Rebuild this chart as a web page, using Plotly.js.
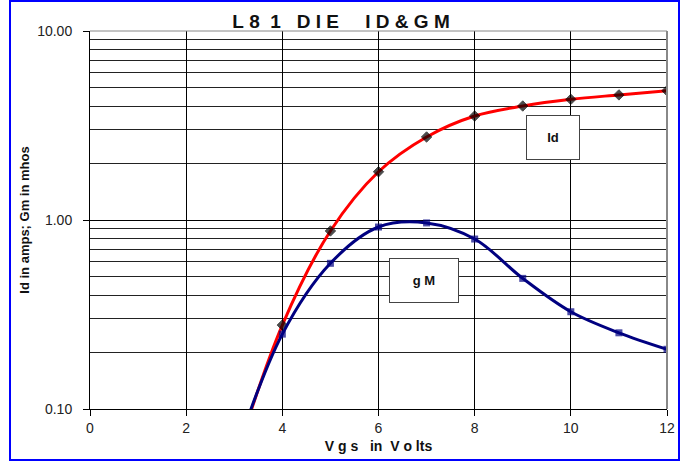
<!DOCTYPE html>
<html>
<head>
<meta charset="utf-8">
<script src="https://cdn.plot.ly/plotly-3.0.1.min.js"></script>
<style>
  html, body { margin: 0; padding: 0; background: #fff; }
  #wrap { position: relative; width: 680px; height: 461px; }
  #chart { width: 680px; height: 461px; }
  #frame { position: absolute; left: 9px; top: 0; width: 671px; height: 461px;
           box-sizing: border-box; border: 2px solid #0000FF; pointer-events: none; }
</style>
</head>
<body>
<div id="wrap"><div id="chart"></div><div id="frame"></div></div>
<script>
// Vgs in volts (the 3 V point lies below the axis minimum and is only seen as the line entering)
const vgs = [3, 4, 5, 6, 7, 8, 9, 10, 11, 12];
// Drain current Id (amps)
const idAmps = [0.052, 0.278, 0.875, 1.80, 2.75, 3.55, 4.01, 4.35, 4.59, 4.83];
// Transconductance gM (mhos)
const gmMhos = [0.056, 0.249, 0.590, 0.918, 0.965, 0.793, 0.491, 0.327, 0.253, 0.207];

const yMajor = [0.1, 1, 10];
const yMajorText = ['0.10', '1.00', '10.00'];
const yMinor = [0.2,0.3,0.4,0.5,0.6,0.7,0.8,0.9,2,3,4,5,6,7,8,9];
const xTicks = [0, 2, 4, 6, 8, 10, 12];

const nb = s => s.replace(/ /g, '\u00A0');
const markerOn = vgs.map((v, i) => i === 0 ? 0 : 1);

const traces = [
  {
    x: vgs, y: idAmps, name: 'Id', type: 'scatter', mode: 'lines+markers',
    line: { color: '#FF0000', width: 3, shape: 'spline', smoothing: 1 },
    marker: { symbol: 'diamond', color: '#000000', size: markerOn.map(s => s * 8),
              line: { color: '#000000', width: 1 } },
    cliponaxis: true
  },
  {
    x: vgs, y: gmMhos, name: 'gM', type: 'scatter', mode: 'lines+markers',
    line: { color: '#000080', width: 3, shape: 'spline', smoothing: 1 },
    marker: { symbol: 'square', color: '#000080', size: markerOn.map(s => s * 7),
              line: { color: '#000080', width: 0 } },
    cliponaxis: true
  }
];

const layout = {
  width: 680, height: 461,
  margin: { l: 90, r: 13, t: 31, b: 52 },
  paper_bgcolor: '#ffffff', plot_bgcolor: '#ffffff',
  showlegend: false,
  font: { family: 'Arial, Liberation Sans, sans-serif', color: '#111', size: 13 },
  title: {
    text: nb('L 8  1   D I E     I D & G M'),
    font: { family: 'Arial, Liberation Sans, sans-serif', size: 19, color: '#111', weight: 'bold' },
    xref: 'container', yref: 'container', x: 0.5015, y: 0.954, xanchor: 'center', yanchor: 'middle'
  },
  xaxis: {
    range: [0, 12], tickvals: xTicks, ticktext: xTicks.map(String),
    ticks: 'outside', ticklen: 6, tickcolor: '#000', tickwidth: 1,
    showgrid: true, gridcolor: '#000', gridwidth: 1,
    showline: true, linecolor: '#000', linewidth: 1, mirror: false,
    zeroline: false,
    tickfont: { size: 14, color: '#222' },
    title: { text: nb('V g s   in  V o lts'), font: { size: 14, weight: 'bold', color: '#111' }, standoff: 6 }
  },
  yaxis: {
    type: 'log', range: [-1, 1],
    tickvals: yMajor, ticktext: yMajorText,
    ticks: 'outside', ticklen: 6, tickcolor: '#000', tickwidth: 1,
    showgrid: true, gridcolor: '#000', gridwidth: 1,
    minor: { tickvals: yMinor, showgrid: true, gridcolor: '#222', gridwidth: 1, ticks: '' },
    showline: true, linecolor: '#000', linewidth: 1,
    zeroline: false,
    tickfont: { size: 14, color: '#222' },
    ticklabelstandoff: 8,
    title: { text: 'Id in amps; Gm in mhos', font: { size: 13, weight: 'bold', color: '#111' }, standoff: 4 }
  },
  shapes: [
    { type: 'line', xref: 'paper', yref: 'paper', x0: 1, x1: 1, y0: 0, y1: 1, line: { color: '#888', width: 2 } },
    { type: 'line', xref: 'paper', yref: 'paper', x0: 0, x1: 1, y0: 1, y1: 1, line: { color: '#888', width: 1 } }
  ],
  annotations: [
    { x: 9.63, y: Math.log10(2.72), xref: 'x', yref: 'y', text: '<b>Id</b>', showarrow: false,
      width: 52, height: 43, bgcolor: '#fff', bordercolor: '#444', borderwidth: 1, borderpad: 0,
      font: { size: 13, color: '#111' } },
    { x: 6.95, y: Math.log10(0.481), xref: 'x', yref: 'y', text: '<b>g M</b>', showarrow: false,
      width: 68, height: 43, bgcolor: '#fff', bordercolor: '#444', borderwidth: 1, borderpad: 0,
      font: { size: 13, color: '#111' } }
  ]
};

Plotly.newPlot('chart', traces, layout, { displayModeBar: false, staticPlot: true });
</script>
</body>
</html>
